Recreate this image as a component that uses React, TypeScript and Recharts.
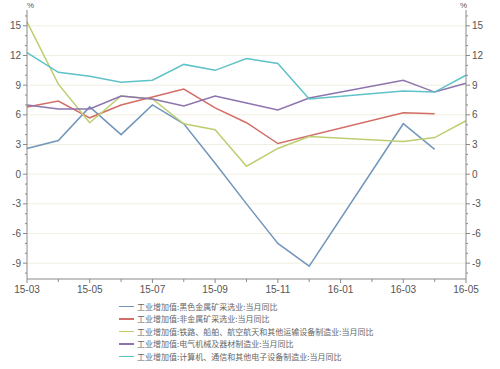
import { LineChart, Line, XAxis, YAxis, ReferenceLine } from "recharts";

// month index 0 = 15-03 ... 14 = 16-05 (16-01/16-02 have no separate reading)
const months = [
  "15-03", "15-04", "15-05", "15-06", "15-07", "15-08", "15-09", "15-10",
  "15-11", "15-12", "16-01", "16-02", "16-03", "16-04", "16-05",
];

const ferrousMining = [2.6, 3.4, 6.8, 4.0, 7.0, 5.1, 1.1, -3.0, -7.0, -9.3, null, null, 5.1, 2.5, null];
const nonMetalMining = [6.8, 7.4, 5.7, 7.0, 7.8, 8.6, 6.7, 5.2, 3.1, null, null, null, 6.2, 6.1, null];
const railShipAero = [15.4, 9.1, 5.2, 7.9, 7.6, 5.1, 4.5, 0.8, 2.6, 3.8, null, null, 3.3, 3.7, 5.4];
const electrical = [7.0, 6.6, 6.6, 7.9, 7.6, 6.9, 7.9, 7.2, 6.5, 7.7, null, null, 9.5, 8.3, 9.2];
const computerComm = [12.3, 10.3, 9.9, 9.3, 9.5, 11.1, 10.5, 11.7, 11.2, 7.6, null, null, 8.4, 8.3, 10.0];

const yTicks = Array.from({ length: 27 }, (_, k) => k - 10);
const yMajor = [-9, -6, -3, 0, 3, 6, 9, 12, 15];
const xTicks = months.map((_, i) => i);

const series = [
  { key: "ferrous", label: "工业增加值:黑色金属矿采选业:当月同比", color: "#7296bb", values: ferrousMining },
  { key: "nonmetal", label: "工业增加值:非金属矿采选业:当月同比", color: "#d36d66", values: nonMetalMining },
  { key: "rail", label: "工业增加值:铁路、船舶、航空航天和其他运输设备制造业:当月同比", color: "#bccf70", values: railShipAero },
  { key: "elec", label: "工业增加值:电气机械及器材制造业:当月同比", color: "#8d74ae", values: electrical },
  { key: "comp", label: "工业增加值:计算机、通信和其他电子设备制造业:当月同比", color: "#5ec2c8", values: computerComm },
];

const data = months.map((m, i) => {
  const row: any = { i, month: m };
  series.forEach((s) => (row[s.key] = s.values[i]));
  return row;
});

const axisColor = "#8a8a8a";
const labelColor = "#555";
const font = "'Liberation Sans', Arial, sans-serif";

const isMajor = (v: number) => v % 3 === 0 && v >= -9 && v <= 15;

function LeftTick({ x, y, payload }: any) {
  const major = isMajor(payload.value);
  return (
    <g>
      <line x1={x - (major ? 4 : 2)} x2={x} y1={y} y2={y} stroke={axisColor} />
      {major && (
        <text x={x - 6} y={y + 3.5} textAnchor="end" fontSize={10} fill={labelColor} fontFamily={font}>
          {payload.value}
        </text>
      )}
    </g>
  );
}

function RightTick({ x, y, payload }: any) {
  const major = isMajor(payload.value);
  return (
    <g>
      <line x1={x} x2={x + (major ? 4 : 2)} y1={y} y2={y} stroke={axisColor} />
      {major && (
        <text x={x + 6} y={y + 3.5} textAnchor="start" fontSize={10} fill={labelColor} fontFamily={font}>
          {payload.value}
        </text>
      )}
    </g>
  );
}

function BottomTick({ x, y, payload }: any) {
  const major = payload.value % 2 === 0;
  return (
    <g>
      <line x1={x} x2={x} y1={y} y2={y + (major ? 4 : 3)} stroke={axisColor} />
      {major && (
        <text x={x} y={y + 14} textAnchor="middle" fontSize={10} fill={labelColor} fontFamily={font}>
          {months[payload.value]}
        </text>
      )}
    </g>
  );
}

export default function App() {
  return (
    <div style={{ position: "relative", width: 500, height: 369, background: "#fff" }}>
      <style>{`body{margin:0}`}</style>
      <LineChart
        width={500}
        height={369}
        data={data}
        margin={{ top: 10, right: 33, left: 26, bottom: 70 }}
      >
        <XAxis
          dataKey="i"
          type="number"
          domain={[0, 14]}
          ticks={xTicks}
          interval={0}
          height={20}
          stroke={axisColor}
          tickLine={false}
          tickSize={0}
          tickMargin={0}
          tick={<BottomTick />}
        />
        <YAxis
          yAxisId="l"
          domain={[-10.6, 16.6]}
          ticks={yTicks}
          interval={0}
          width={1}
          stroke={axisColor}
          tickLine={false}
          tickSize={0}
          tickMargin={0}
          tick={<LeftTick />}
          allowDataOverflow
        />
        <YAxis
          yAxisId="r"
          orientation="right"
          domain={[-10.6, 16.6]}
          ticks={yTicks}
          interval={0}
          width={1}
          stroke={axisColor}
          tickLine={false}
          tickSize={0}
          tickMargin={0}
          tick={<RightTick />}
          allowDataOverflow
        />
        {yMajor.map((v) => (
          <ReferenceLine key={v} yAxisId="l" y={v} stroke="#f1efdf" strokeWidth={1} />
        ))}
        {series.map((s) => (
          <Line
            key={s.key}
            yAxisId="l"
            type="linear"
            dataKey={s.key}
            stroke={s.color}
            strokeWidth={1.5}
            dot={false}
            activeDot={false}
            connectNulls
            isAnimationActive={false}
          />
        ))}
      </LineChart>
      <span style={{ position: "absolute", left: 27, top: 1, fontSize: 8, color: labelColor, fontFamily: font }}>%</span>
      <span style={{ position: "absolute", left: 460, top: 1, fontSize: 8, color: labelColor, fontFamily: font }}>%</span>
      <div style={{ position: "absolute", left: 119, top: 300 }}>
        {series.map((s) => (
          <div key={s.key} style={{ display: "flex", alignItems: "center", height: 12.5 }}>
            <div style={{ width: 15, height: 1.5, background: s.color, marginRight: 3 }} />
            <span style={{ fontSize: 8, color: "#666", fontFamily: "'Noto Sans CJK SC', sans-serif", whiteSpace: "nowrap" }}>
              {s.label}
            </span>
          </div>
        ))}
      </div>
    </div>
  );
}
